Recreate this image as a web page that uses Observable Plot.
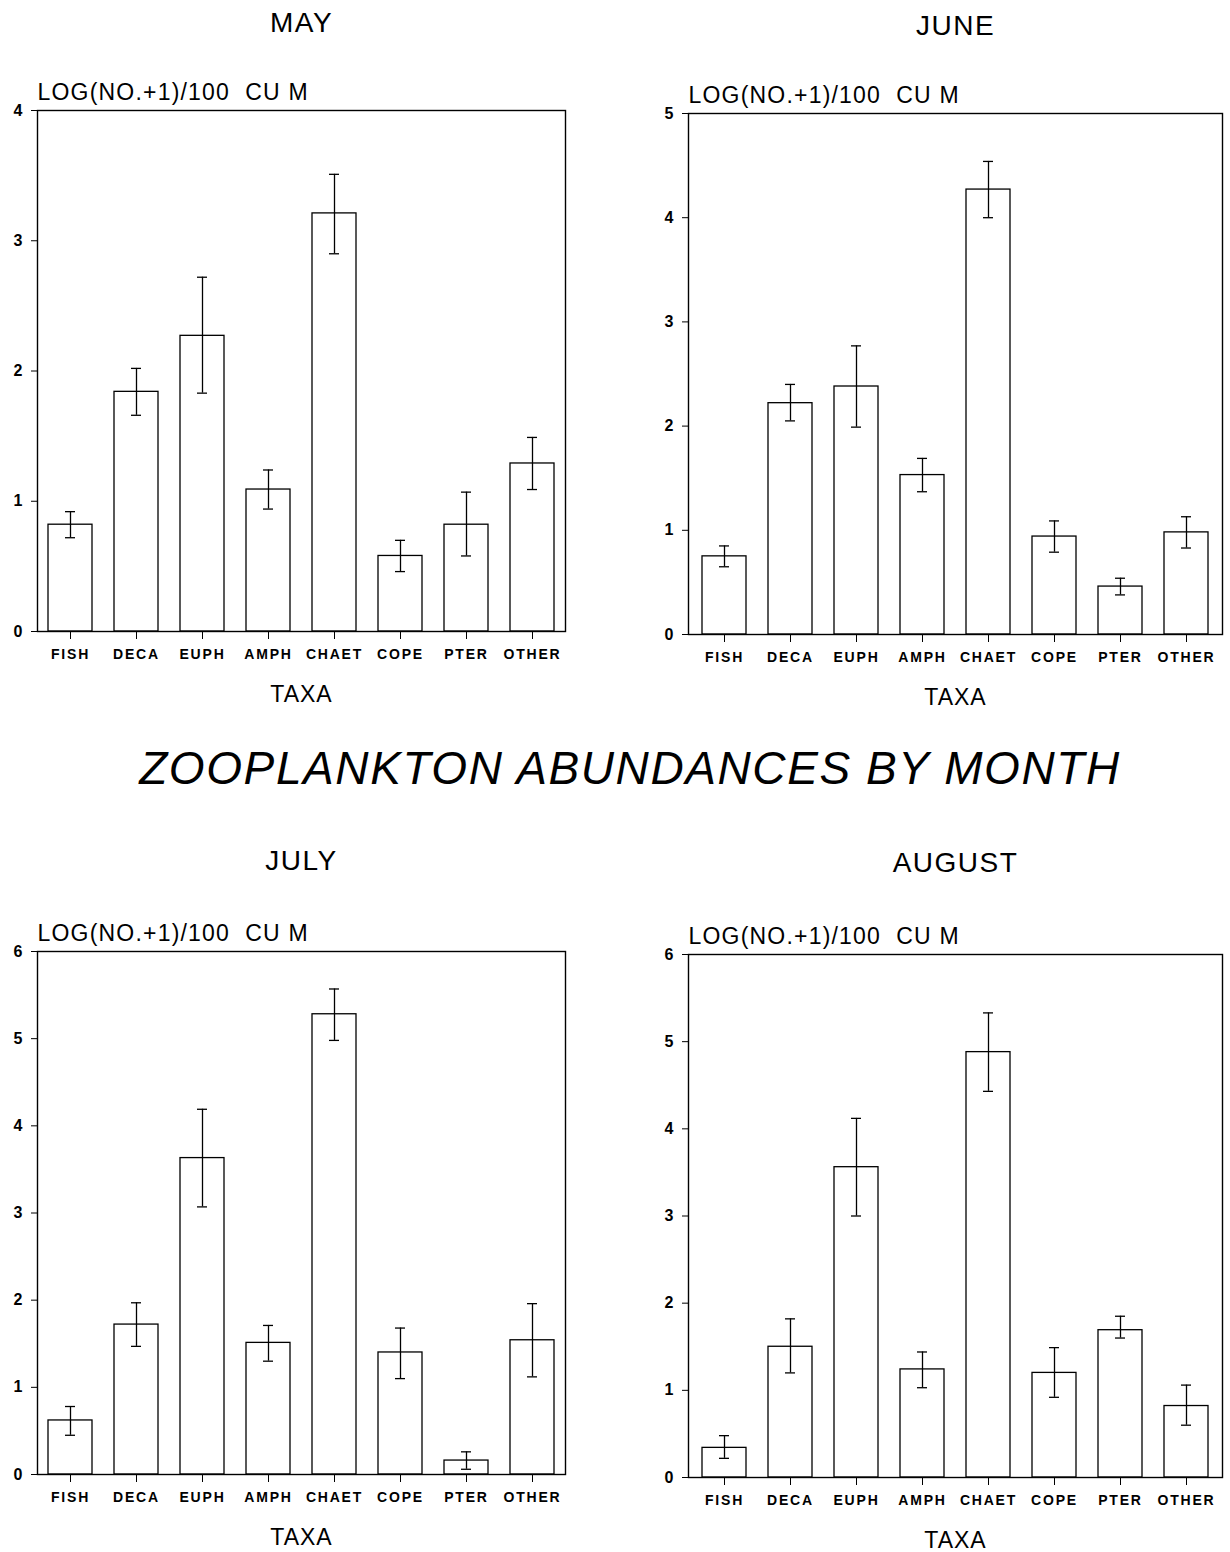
<!DOCTYPE html>
<html>
<head>
<meta charset="utf-8">
<script src="https://cdn.jsdelivr.net/npm/d3@7"></script>
<script src="https://cdn.jsdelivr.net/npm/@observablehq/plot@0.6"></script>
<style>
  html, body { margin: 0; padding: 0; background: #fff; }
  #page { position: relative; width: 1230px; height: 1552px; background: #fff; overflow: hidden; }
  #page svg { position: absolute; }
  #main-title {
    position: absolute; left: 30px; width: 1200px; top: 745px;
    text-align: center; font-family: "Liberation Sans", Arial, sans-serif;
    font-style: italic; font-size: 46px; line-height: 46px; letter-spacing: 1.6px; color: #000;
  }
  svg [aria-label="x-axis tick label"] text { letter-spacing: 1.8px; }
  svg [aria-label="y-axis tick label"] text { font-size: 16px; font-weight: bold; }
</style>
</head>
<body>
<div id="page">
  <div id="main-title">ZOOPLANKTON ABUNDANCES BY MONTH</div>
</div>
<script>
// Taxa on the x axis
const taxa = ["FISH", "DECA", "EUPH", "AMPH", "CHAET", "COPE", "PTER", "OTHER"];

// Mean log abundance per taxon, with lower / upper error-bar ends
const mayMean  = [0.82, 1.84, 2.27, 1.09, 3.21, 0.58, 0.82, 1.29];
const mayLow   = [0.72, 1.66, 1.83, 0.94, 2.90, 0.46, 0.58, 1.09];
const mayHigh  = [0.92, 2.02, 2.72, 1.24, 3.51, 0.70, 1.07, 1.49];

const juneMean = [0.75, 2.22, 2.38, 1.53, 4.27, 0.94, 0.46, 0.98];
const juneLow  = [0.65, 2.05, 1.99, 1.37, 4.00, 0.79, 0.38, 0.83];
const juneHigh = [0.85, 2.40, 2.77, 1.69, 4.54, 1.09, 0.54, 1.13];

const julyMean = [0.62, 1.72, 3.63, 1.51, 5.28, 1.40, 0.16, 1.54];
const julyLow  = [0.45, 1.47, 3.07, 1.30, 4.98, 1.10, 0.06, 1.12];
const julyHigh = [0.78, 1.97, 4.19, 1.71, 5.57, 1.68, 0.26, 1.96];

const augMean  = [0.34, 1.50, 3.56, 1.24, 4.88, 1.20, 1.69, 0.82];
const augLow   = [0.22, 1.20, 3.00, 1.03, 4.43, 0.92, 1.60, 0.60];
const augHigh  = [0.48, 1.82, 4.12, 1.44, 5.33, 1.49, 1.85, 1.06];

// Panel titles and y-axis tops
const months = ["MAY", "JUNE", "JULY", "AUGUST"];
const yTops = [4, 5, 6, 6];
const yLabel = "LOG(NO.+1)/100  CU M";
const xLabel = "TAXA";

const FONT = "'Liberation Sans', Arial, Helvetica, sans-serif";

function rowsFor(mean, low, high) {
  return taxa.map((t, i) => ({taxon: t, mean: mean[i], low: low[i], high: high[i]}));
}

// Letter spacing for the free-standing labels (the text mark has no option for it)
function spaceLetters(svg, content, spacing) {
  d3.select(svg).selectAll("text")
    .filter(function () { return this.textContent === content; })
    .style("letter-spacing", spacing);
}

function panel(month, yTop, rows, box) {
  const ticks = d3.range(0, yTop + 1);
  const line = {stroke: "#000", strokeWidth: 1.3};
  const svg = Plot.plot({
    width: box.width,
    height: box.height,
    marginLeft: box.ml,
    marginRight: box.mr,
    marginTop: box.mt,
    marginBottom: box.mb,
    style: {fontFamily: FONT, color: "#000", background: "transparent", overflow: "visible"},
    x: {domain: taxa, paddingInner: 0.33, paddingOuter: 0.165, label: null},
    y: {domain: [0, yTop], label: null},
    marks: [
      Plot.barY(rows, {x: "taxon", y: "mean", fill: "#fff", ...line}),
      Plot.ruleX(rows, {x: "taxon", y1: "low", y2: "high", ...line}),
      Plot.tickY(rows, {x: "taxon", y: "low", insetLeft: 17, insetRight: 17, ...line}),
      Plot.tickY(rows, {x: "taxon", y: "high", insetLeft: 17, insetRight: 17, ...line}),
      Plot.frame({stroke: "#000", strokeWidth: 1.4}),
      Plot.axisY({ticks, tickFormat: d3.format("d"), tickSize: 6, tickPadding: 9,
                  fontSize: 16, label: null, stroke: "#000"}),
      Plot.axisX({tickSize: 8, tickPadding: 10, fontSize: 14, fontWeight: "bold",
                  label: null, stroke: "#000"}),
      Plot.text([month], {frameAnchor: "top", lineAnchor: "middle", dy: box.titleDy,
                          fontSize: 28, fill: "#000"}),
      Plot.text([yLabel], {frameAnchor: "top-left", lineAnchor: "middle", dy: -18,
                           textAnchor: "start", fontSize: 23, fill: "#000"}),
      Plot.text([xLabel], {frameAnchor: "bottom", lineAnchor: "middle", dy: 63,
                           fontSize: 23, fill: "#000"})
    ]
  });
  spaceLetters(svg, month, "1.5px");
  spaceLetters(svg, yLabel, "1.2px");
  spaceLetters(svg, xLabel, "1px");
  svg.style.left = box.left + "px";
  svg.style.top = box.top + "px";
  document.getElementById("page").appendChild(svg);
}

const boxes = [
  {left: 0,   top: 0,   width: 600, height: 720, ml: 37, mr: 35, mt: 110, mb: 89, titleDy: -87},
  {left: 630, top: 0,   width: 600, height: 720, ml: 58, mr: 8,  mt: 113, mb: 86, titleDy: -87},
  {left: 0,   top: 800, width: 600, height: 752, ml: 37, mr: 35, mt: 151, mb: 78, titleDy: -90},
  {left: 630, top: 800, width: 600, height: 752, ml: 58, mr: 8,  mt: 154, mb: 75, titleDy: -91}
];

const series = [
  rowsFor(mayMean, mayLow, mayHigh),
  rowsFor(juneMean, juneLow, juneHigh),
  rowsFor(julyMean, julyLow, julyHigh),
  rowsFor(augMean, augLow, augHigh)
];

months.forEach((m, i) => panel(m, yTops[i], series[i], boxes[i]));
</script>
</body>
</html>
